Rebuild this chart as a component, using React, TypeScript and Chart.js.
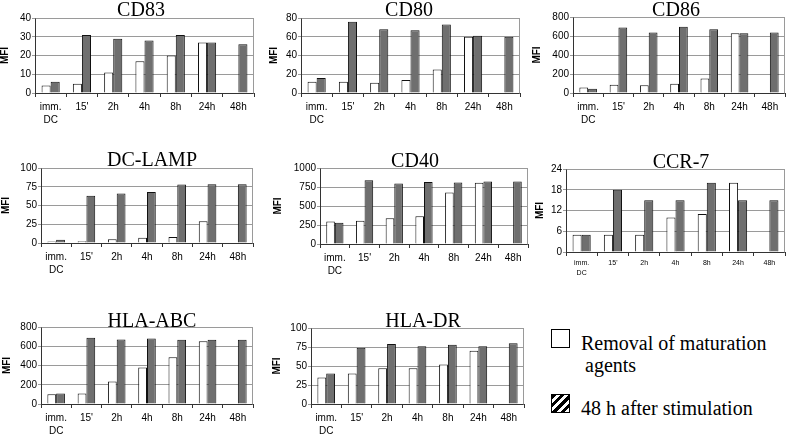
import React, { useEffect, useRef } from 'react';
import { Chart, registerables } from 'chart.js';

Chart.register(...registerables);

// ---------- data ----------
const categories: (string | string[])[] = [['imm.', 'DC'], "15'", '2h', '4h', '8h', '24h', '48h'];
const seriesNames = ['Removal of maturation agents', '48 h after stimulation'];
const panelTitles = ['CD83', 'CD80', 'CD86', 'DC-LAMP', 'CD40', 'CCR-7', 'HLA-ABC', 'HLA-DR'];
const yAxisLabel = 'MFI';

const cd83Removal = [4, 5, 11, 17, 20, 27, null];
const cd83After = [6, 31, 29, 28, 31, 27, 26];
const cd80Removal = [12, 12, 11, 14, 25, 60, null];
const cd80After = [16, 76, 68, 67, 73, 61, 60];
const cd86Removal = [57, 88, 82, 98, 152, 628, null];
const cd86After = [46, 690, 638, 697, 670, 628, 638];
const dcLampRemoval = [2, 2.5, 5, 7, 8, 29, null];
const dcLampAfter = [4.5, 63, 66, 68, 78, 78.5, 78.5];
const cd40Removal = [295, 307, 340, 365, 677, 805, null];
const cd40After = [278, 840, 795, 815, 808, 822, 822];
const ccr7Removal = [5, 5, 5, 10, 11, 20, null];
const ccr7After = [5, 18, 15, 15, 20, 15, 15];
const hlaAbcRemoval = [102, 108, 233, 380, 485, 652, null];
const hlaAbcAfter = [108, 688, 670, 680, 668, 668, 668];
const hlaDrRemoval = [35, 40, 47, 47, 52, 70, null];
const hlaDrAfter = [40, 74, 79, 76, 78, 76, 80];

const removalSeries = [cd83Removal, cd80Removal, cd86Removal, dcLampRemoval, cd40Removal, ccr7Removal, hlaAbcRemoval, hlaDrRemoval];
const afterSeries = [cd83After, cd80After, cd86After, dcLampAfter, cd40After, ccr7After, hlaAbcAfter, hlaDrAfter];
const yMax = [40, 80, 800, 100, 1000, 24, 800, 100];
const yStep = [10, 20, 200, 25, 250, 6, 200, 25];

// ---------- layout (pixel positions of each panel's plot area) ----------
type PanelLayout = { pl: number; pr: number; pt: number; pb: number; mfi: number; tx: number; ty: number; xf: number; xpad: number; xlh: number };
const LAYOUT: PanelLayout[] = [
  { pl: 35, pr: 254, pt: 18, pb: 93, mfi: 5, tx: 141, ty: 16, xf: 10, xpad: 4, xlh: 1.25 },
  { pl: 301, pr: 520, pt: 18, pb: 93, mfi: 274, tx: 409, ty: 16, xf: 10, xpad: 4, xlh: 1.25 },
  { pl: 573, pr: 785, pt: 17, pb: 93, mfi: 537, tx: 676, ty: 16, xf: 10, xpad: 4, xlh: 1.25 },
  { pl: 41, pr: 253, pt: 168, pb: 243, mfi: 6, tx: 152, ty: 166, xf: 10, xpad: 4, xlh: 1.25 },
  { pl: 320, pr: 528, pt: 168, pb: 244, mfi: 278, tx: 415, ty: 167, xf: 10, xpad: 4, xlh: 1.25 },
  { pl: 566, pr: 785, pt: 169, pb: 252, mfi: 540, tx: 681, ty: 168, xf: 7, xpad: 2, xlh: 1.4 },
  { pl: 41, pr: 253, pt: 327, pb: 404, mfi: 7, tx: 152, ty: 327, xf: 10, xpad: 4, xlh: 1.25 },
  { pl: 311, pr: 524, pt: 328, pb: 404, mfi: 277, tx: 423, ty: 327, xf: 10, xpad: 4, xlh: 1.25 },
];

const SERIF = '"Liberation Serif", "DejaVu Serif", Times, "Times New Roman", serif';
const SANS = '"Liberation Sans", Arial, sans-serif';
const WHITE = '#ffffff';
const GRAY = '#6f6f6f';
const BORDER = '#111111';
const GRID = '#9a9a9a';
const AXIS = '#333333';
const TOP_PAD = 24;
const X_H = 32;

function Panel({ index }: { index: number }) {
  const ref = useRef<HTMLCanvasElement | null>(null);
  const L = LAYOUT[index];
  const left = L.mfi - 6;
  const top = L.pt - TOP_PAD;
  const width = L.pr - left + 2;
  const height = Math.min(L.pb + X_H, 435) - top;
  const yw = L.pl - left;
  const xh = height - (L.pb - top);

  useEffect(() => {
    if (!ref.current) return;
    const title = panelTitles[index];
    const chart = new Chart(ref.current, {
      type: 'bar',
      data: {
        labels: categories,
        datasets: [
          {
            label: seriesNames[0],
            data: removalSeries[index],
            backgroundColor: WHITE,
            borderColor: BORDER,
            borderWidth: 1,
            barPercentage: 1,
            categoryPercentage: 0.58,
          },
          {
            label: seriesNames[1],
            data: afterSeries[index],
            backgroundColor: GRAY,
            borderColor: BORDER,
            borderWidth: 1,
            barPercentage: 1,
            categoryPercentage: 0.58,
          },
        ],
      },
      options: {
        responsive: false,
        animation: false,
        devicePixelRatio: 1,
        layout: { padding: { top: TOP_PAD, right: 2, left: 0, bottom: 0 } },
        plugins: {
          legend: { display: false },
          tooltip: { enabled: false },
          title: { display: false },
        },
        scales: {
          x: {
            grid: { display: true, drawOnChartArea: false, drawTicks: true, tickLength: 4, color: AXIS, offset: true },
            border: { display: true, color: AXIS, width: 1 },
            ticks: {
              color: '#000',
              padding: L.xpad,
              maxRotation: 0,
              autoSkip: false,
              font: { family: SANS, size: L.xf, lineHeight: L.xlh },
            },
            afterFit: (s: any) => { s.height = xh; },
          },
          y: {
            min: 0,
            max: yMax[index],
            ticks: {
              stepSize: yStep[index],
              color: '#000',
              padding: 1,
              font: { family: SANS, size: 10 },
              callback: (v: any) => String(v),
            },
            grid: { color: GRID, lineWidth: 1, tickLength: 3 },
            border: { display: true, color: AXIS, width: 1 },
            title: {
              display: true,
              text: yAxisLabel,
              color: '#000',
              padding: 0,
              font: { family: SANS, size: 10, weight: 'bold', lineHeight: 1.2 },
            },
            afterFit: (s: any) => { s.width = yw; },
          },
        },
      },
      plugins: [
        {
          id: 'boxAndTitle',
          beforeDatasetsDraw(c: any) {
            const a = c.chartArea;
            const ctx = c.ctx;
            ctx.save();
            ctx.strokeStyle = GRID;
            ctx.lineWidth = 1;
            ctx.beginPath();
            ctx.moveTo(Math.round(a.left) + 0.5, Math.round(a.top) + 0.5);
            ctx.lineTo(Math.round(a.right) - 0.5, Math.round(a.top) + 0.5);
            ctx.lineTo(Math.round(a.right) - 0.5, Math.round(a.bottom) + 0.5);
            ctx.stroke();
            ctx.restore();
          },
          afterDraw(c: any) {
            const ctx = c.ctx;
            ctx.save();
            ctx.fillStyle = '#000';
            ctx.font = '20px ' + SERIF;
            ctx.textAlign = 'center';
            ctx.textBaseline = 'alphabetic';
            ctx.fillText(title, L.tx - left, L.ty - top);
            ctx.restore();
          },
        },
      ],
    } as any);
    return () => chart.destroy();
  }, [index]);

  return (
    <canvas
      ref={ref}
      width={width}
      height={height}
      style={{ position: 'absolute', left, top, width, height, display: 'block' }}
    />
  );
}

const legendText: React.CSSProperties = {
  position: 'absolute',
  fontFamily: SERIF,
  fontSize: 20,
  lineHeight: '20px',
  color: '#000',
  whiteSpace: 'nowrap',
};

export default function App() {
  return (
    <div style={{ position: 'fixed', left: 0, top: 0, width: 787, height: 435, overflow: 'hidden', background: '#fff' }}>
      {panelTitles.map((_, i) => (
        <Panel key={i} index={i} />
      ))}
      <div
        style={{
          position: 'absolute', left: 551, top: 329, width: 19, height: 19,
          border: '1.5px solid #000', boxSizing: 'border-box', background: '#fff',
        }}
      />
      <div style={{ ...legendText, left: 581, top: 333 }}>Removal of maturation</div>
      <div style={{ ...legendText, left: 585, top: 355 }}>agents</div>
      <div
        style={{
          position: 'absolute', left: 551, top: 394, width: 19, height: 19,
          border: '1.5px solid #000', boxSizing: 'border-box',
          background: 'repeating-linear-gradient(135deg, #000 0px, #000 3px, #fff 3px, #fff 6px)',
        }}
      />
      <div style={{ ...legendText, left: 581, top: 398 }}>48 h after stimulation</div>
    </div>
  );
}
